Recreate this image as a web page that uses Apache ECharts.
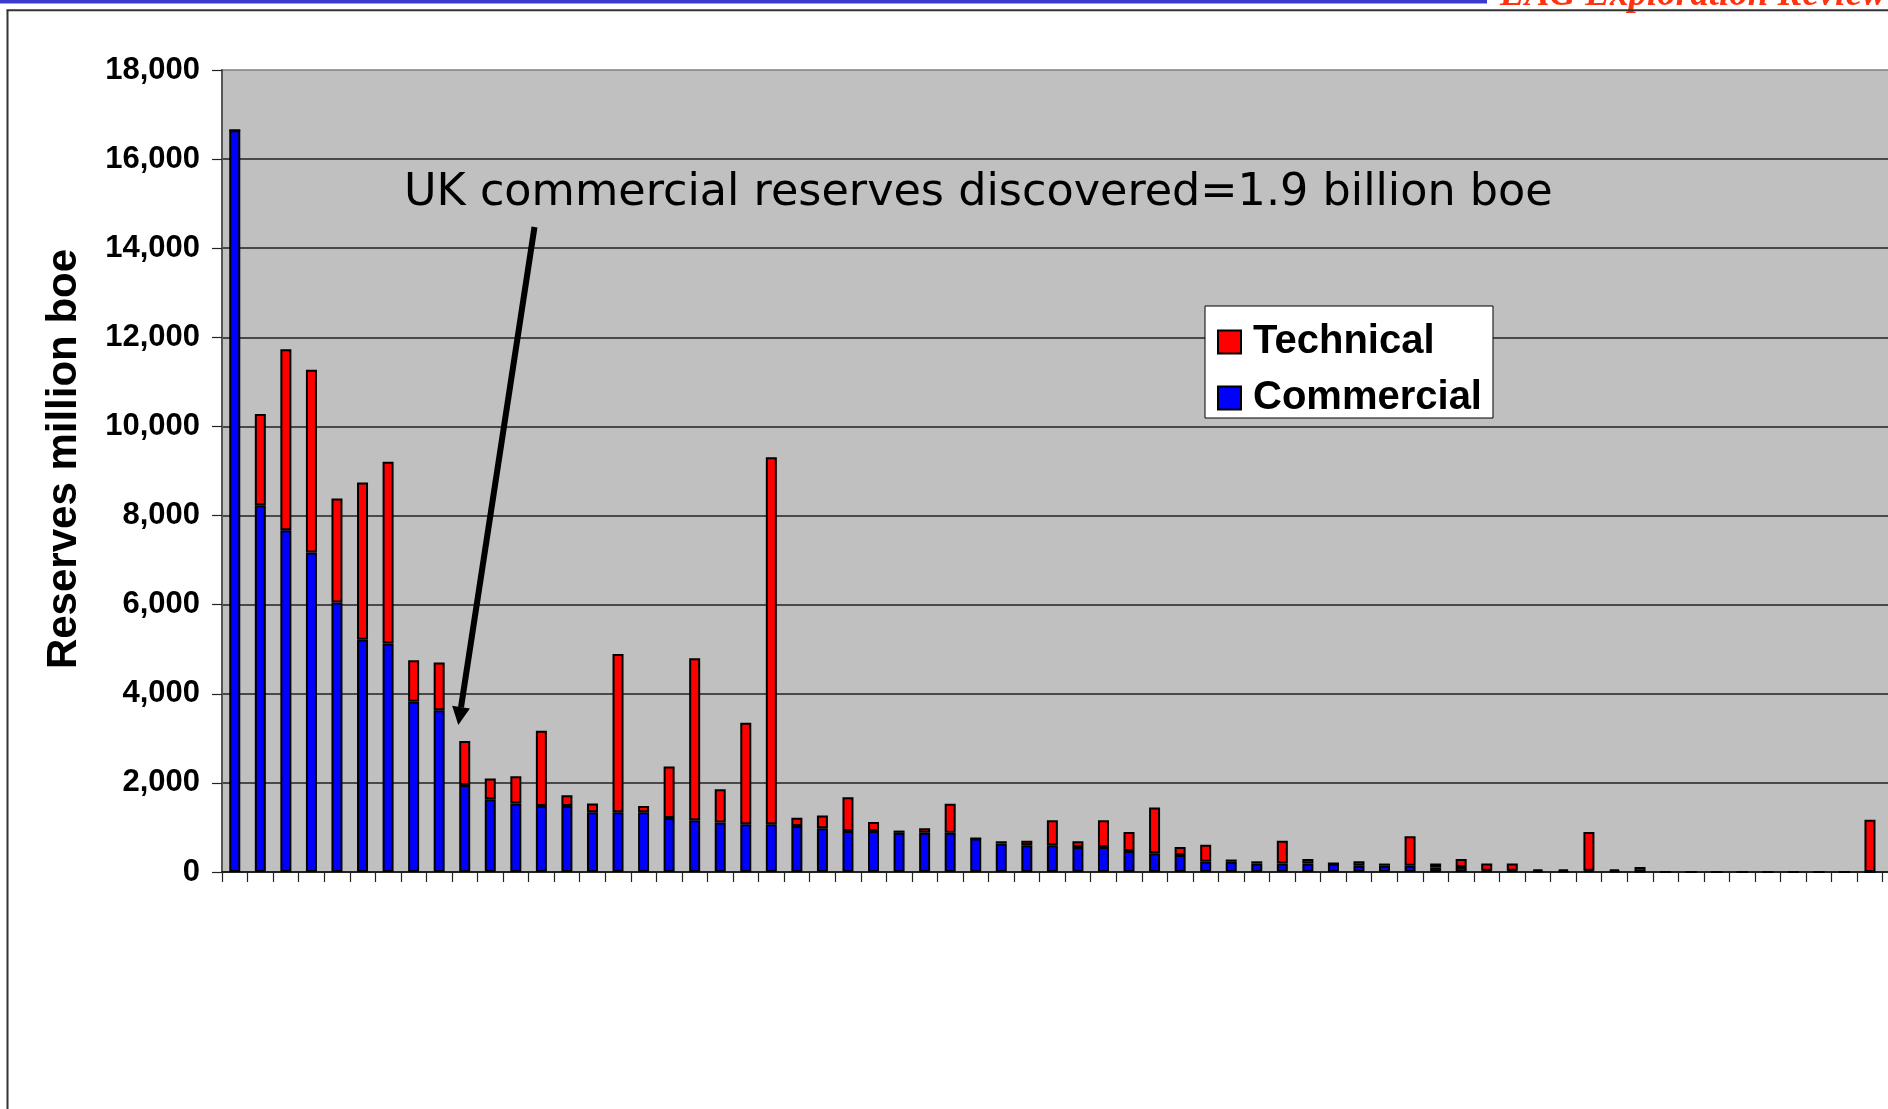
<!DOCTYPE html>
<html>
<head>
<meta charset="utf-8">
<script src="https://cdn.jsdelivr.net/npm/echarts@6/dist/echarts.min.js"></script>
<style>
html,body{margin:0;padding:0;background:#fff;}
#chart{width:1888px;height:1109px;}
</style>
</head>
<body>
<div id="chart"></div>
<script>
// Discoveries ranked by size (no category labels shown in the original)
const categories = [];
for (let i = 1; i <= 66; i++) categories.push(String(i));

// Commercial reserves, million boe
const commercial = [
  16650, 8230, 7670, 7170, 6050, 5210, 5130, 3820, 3630, 1950,
  1630, 1540, 1480, 1480, 1340, 1340, 1340, 1210, 1160, 1110,
  1070, 1070, 1030, 980, 920, 920, 880, 880, 880, 750,
  640, 600, 600, 560, 560, 470, 420, 380, 230, 230,
  190, 190, 190, 190, 140, 140, 140, 100, 110, 30,
  30, 20, 20, 30, 20, 10, 0, 0, 0, 0,
  0, 0, 0, 0, 0, 0
];
// Technical (non-commercial) reserves, million boe
const technical = [
  0, 2050, 4060, 4100, 2330, 3530, 4080, 930, 1070, 990,
  470, 610, 1690, 240, 200, 3550, 140, 1160, 3640, 750,
  2280, 8240, 190, 290, 760, 200, 50, 100, 650, 0,
  50, 100, 560, 130, 600, 430, 1030, 180, 380, 50,
  50, 510, 100, 0, 100, 50, 660, 90, 180, 160,
  160, 40, 40, 870, 40, 100, 0, 0, 0, 0,
  0, 0, 0, 0, 1170, 0
];
const yTicks = { min: 0, max: 18000, interval: 2000 };
const seriesNames = ['Technical', 'Commercial'];
const annotationText = 'UK commercial reserves discovered=1.9 billion boe';
const yTitle = 'Reserves million boe';
const headerText = 'EAG Exploration Review';

const chart = echarts.init(document.getElementById('chart'), null, { renderer: 'canvas' });

// arrow geometry (annotation)
const tail = [534.5, 227], tip = [458.3, 725];
const dx = tip[0] - tail[0], dy = tip[1] - tail[1];
const len = Math.sqrt(dx * dx + dy * dy);
const ux = dx / len, uy = dy / len;
const headLen = 18, headHalf = 9;
const bx = tip[0] - headLen * ux, by = tip[1] - headLen * uy;
const nx = -uy, ny = ux;

const gridColors = ['#222','#222','#222','#222','#222','#222','#222','#222','#222','#808080'];

const option = {
  backgroundColor: '#ffffff',
  animation: false,
  grid: {
    left: 222, top: 70, height: 802, width: 66 * 25.55,
    outerBoundsMode: 'none',
    containLabel: false,
    show: true, backgroundColor: '#c0c0c0', borderWidth: 0
  },
  legend: {
    data: seriesNames,
    orient: 'vertical',
    left: 1205, top: 306,
    padding: [16, 11, 0, 12],
    itemGap: 16,
    itemWidth: 23, itemHeight: 23,
    icon: 'rect',
    backgroundColor: '#ffffff',
    borderColor: '#000000', borderWidth: 1,
    textStyle: {
      fontFamily: 'Liberation Sans', fontWeight: 'bold', fontSize: 40,
      color: '#000', lineHeight: 40, padding: [0, 0, 0, 7]
    }
  },
  xAxis: {
    type: 'category',
    data: categories,
    boundaryGap: true,
    axisLine: { show: true, lineStyle: { color: '#222', width: 2 } },
    axisTick: { show: true, length: 10, alignWithLabel: false, interval: 0, lineStyle: { color: '#222', width: 1.2 } },
    axisLabel: { show: false },
    splitLine: { show: false }
  },
  yAxis: {
    type: 'value',
    min: yTicks.min, max: yTicks.max, interval: yTicks.interval,
    name: yTitle,
    nameLocation: 'middle',
    nameRotate: 90,
    nameGap: 137,
    nameTextStyle: {
      fontFamily: 'Liberation Sans', fontWeight: 'bold', fontSize: 42, color: '#000',
      padding: [0, 0, 0, 24]
    },
    axisLine: { show: true, lineStyle: { color: '#555', width: 2 } },
    axisTick: { show: true, length: 10, lineStyle: { color: '#222', width: 1.2 } },
    axisLabel: {
      margin: 22,
      fontFamily: 'Liberation Sans', fontWeight: 'bold', fontSize: 31, color: '#000',
      formatter: v => v.toLocaleString('en-US')
    },
    splitLine: { show: true, lineStyle: { color: gridColors, width: 1.5 } }
  },
  series: [
    {
      name: 'Commercial', type: 'bar', stack: 'res', data: commercial,
      barWidth: 11,
      itemStyle: { color: '#0000ff', borderColor: '#000', borderWidth: 2 }
    },
    {
      name: 'Technical', type: 'bar', stack: 'res', data: technical,
      barWidth: 11,
      itemStyle: { color: '#ff0000', borderColor: '#000', borderWidth: 2 }
    }
  ],
  graphic: [
    // slide header band and frame
    { type: 'rect', shape: { x: 0, y: 0, width: 1487, height: 3.5 }, style: { fill: '#3b3bcf' }, z: 100 },
    { type: 'text', x: 1500, y: -4.5, style: {
        text: headerText, fill: '#ff3311',
        font: 'italic bold 37px "Liberation Serif"', verticalAlign: 'middle', align: 'left'
      }, z: 100 },
    { type: 'line', shape: { x1: 6.5, y1: 10.3, x2: 1888, y2: 10.3 }, style: { stroke: '#333', lineWidth: 2 }, z: 101 },
    { type: 'line', shape: { x1: 7.5, y1: 10.3, x2: 7.5, y2: 1109 }, style: { stroke: '#333', lineWidth: 2 }, z: 101 },
    // annotation
    { type: 'text', x: 404, y: 193.5, style: {
        text: annotationText, fill: '#000',
        font: '44.5px "DejaVu Sans"', verticalAlign: 'middle', align: 'left'
      }, z: 100 },
    { type: 'line', shape: { x1: tail[0], y1: tail[1], x2: bx, y2: by }, style: { stroke: '#000', lineWidth: 6 }, z: 100 },
    { type: 'polygon', shape: { points: [[tip[0], tip[1]], [bx + headHalf * nx, by + headHalf * ny], [bx - headHalf * nx, by - headHalf * ny]] },
      style: { fill: '#000' }, z: 100 }
  ]
};
chart.setOption(option);
</script>
</body>
</html>
